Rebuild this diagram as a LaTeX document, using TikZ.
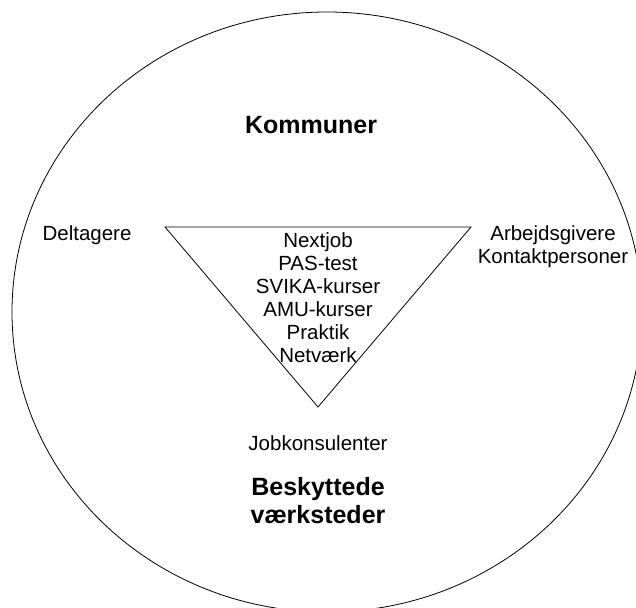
\documentclass[tikz,border=0pt]{standalone}
\usepackage{fontspec}
\setmainfont{Liberation Sans}
\usetikzlibrary{positioning}

\begin{document}
\begin{tikzpicture}[
  x=1pt, y=-1pt,
  every node/.style={inner sep=0pt, anchor=base},
  actor/.style={font=\fontsize{20.5}{23}\selectfont, align=center},
  partner/.style={font=\bfseries\fontsize{25}{28}\selectfont, align=center}
]
\useasboundingbox (0,0) rectangle (636,607);
\clip (0,0) rectangle (636,607);

% Outer ring
\draw[line width=0.8pt] (327,312) ellipse [x radius=315, y radius=300];

% Inner triangle
\coordinate (tl) at (165,227);
\coordinate (tr) at (471,227);
\coordinate (tb) at (318,407);
\draw[line width=0.8pt] (tl) -- (tr) -- (tb) -- cycle;

% Partners (base = last line)
\node[partner] (komm) at (311,133) {Kommuner};
\node[partner] (besk) at (318,523) {Beskyttede\\værksteder};

% Actors round the triangle
\node[actor] (delt) at (87,240) {Deltagere};
\node[actor] (arbg) at (553,263) {Arbejdsgivere\\Kontaktpersoner};
\node[actor] (jobk) at (318,450) {Jobkonsulenter};

% Tools inside the triangle
\node[actor] (tools) at (318,362) {Nextjob\\PAS-test\\SVIKA-kurser\\AMU-kurser\\Praktik\\Netværk};

\end{tikzpicture}
\end{document}
